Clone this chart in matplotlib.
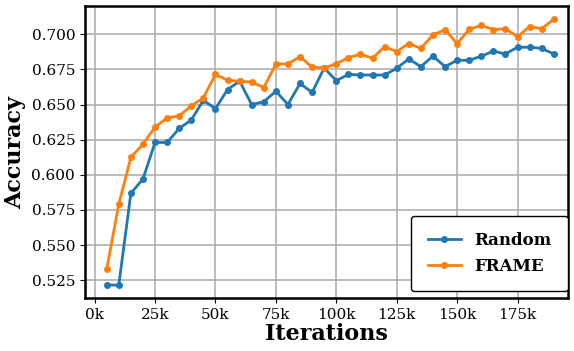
import numpy as np
import matplotlib
matplotlib.use("Agg")
import matplotlib.pyplot as plt
from matplotlib.ticker import FuncFormatter

iterations = np.arange(5000, 190001, 5000)

random_acc = [0.5215, 0.5215, 0.5868, 0.597, 0.623, 0.623, 0.633, 0.639, 0.653, 0.647,
              0.6607, 0.6666, 0.650, 0.652, 0.6595, 0.650, 0.665, 0.6586, 0.676, 0.667,
              0.6714, 0.671, 0.671, 0.671, 0.6758, 0.6825, 0.677, 0.6844, 0.677, 0.6815,
              0.6815, 0.6844, 0.688, 0.686, 0.6908, 0.6908, 0.690, 0.686]

frame_acc = [0.5328, 0.579, 0.6124, 0.6217, 0.634, 0.6404, 0.642, 0.649, 0.6548, 0.6714,
             0.6673, 0.6666, 0.666, 0.6621, 0.6787, 0.679, 0.684, 0.6766, 0.676, 0.679,
             0.6834, 0.6858, 0.683, 0.6912, 0.6877, 0.6934, 0.690, 0.6995, 0.7033, 0.6934,
             0.7035, 0.7064, 0.7033, 0.704, 0.6983, 0.7055, 0.704, 0.7107]

plt.rcParams['font.family'] = 'DejaVu Serif'

fig, ax = plt.subplots(figsize=(5.74, 3.51), dpi=100)
ax.plot(iterations, random_acc, marker='o', markersize=4, linewidth=2, color='#1f77b4', label='Random')
ax.plot(iterations, frame_acc, marker='o', markersize=4, linewidth=2, color='#ff7f0e', label='FRAME')

ax.set_xlim(-4000, 196000)
ax.set_xticks(np.arange(0, 175001, 25000))
ax.xaxis.set_major_formatter(FuncFormatter(lambda v, p: f"{int(v/1000)}k"))
ax.yaxis.set_major_formatter(FuncFormatter(lambda v, p: f"{v:.3f}"))
ax.tick_params(labelsize=11)

ax.grid(True, color='#b0b0b0', linewidth=1.2)
for s in ax.spines.values():
    s.set_linewidth(1.8)
    s.set_color('black')

ax.set_xlabel('Iterations', fontsize=16, fontweight='bold', labelpad=1)
ax.set_ylabel('Accuracy', fontsize=16, fontweight='bold')

leg = ax.legend(loc='lower right', bbox_to_anchor=(1.0, 0.024), borderaxespad=0.0,
                prop={'weight': 'bold', 'size': 12}, borderpad=1.0,
                handlelength=2.0, framealpha=1, fancybox=True)
leg.get_frame().set_edgecolor('black')
leg.get_frame().set_linewidth(1.0)

plt.subplots_adjust(left=0.148, right=0.99, top=0.983, bottom=0.15)
plt.savefig('out.png', dpi=100)
